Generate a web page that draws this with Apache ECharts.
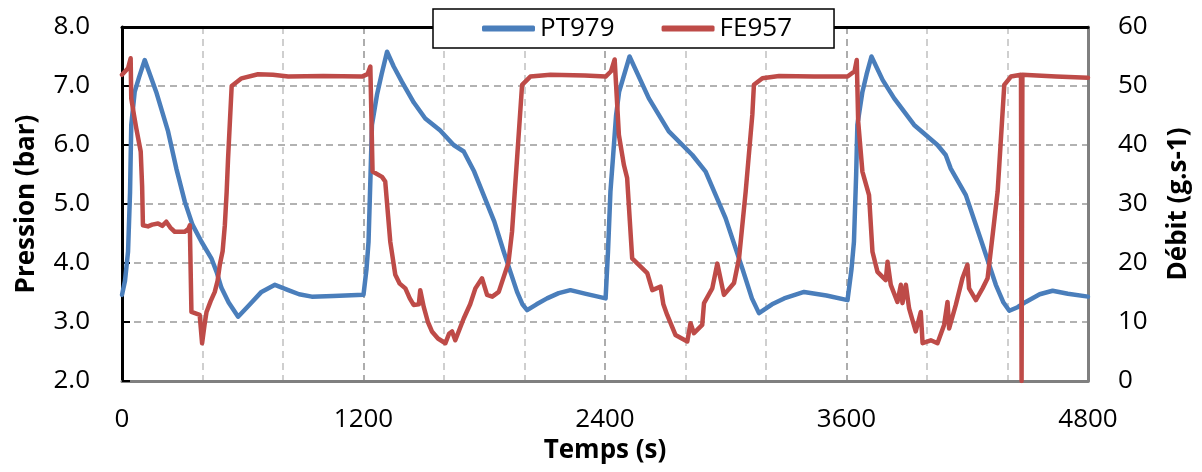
<!DOCTYPE html>
<html>
<head>
<meta charset="utf-8">
<script src="https://cdn.jsdelivr.net/npm/echarts@6/dist/echarts.min.js"></script>
<style>
  html, body { margin: 0; padding: 0; background: #ffffff; }
  #chart { width: 1202px; height: 472px; }
</style>
</head>
<body>
<div id="chart"></div>
<script>
// ---- Data ----
const seriesNames = ['PT979', 'FE957'];
const xTickLabels = ['0', '1200', '2400', '3600', '4800'];
const leftTickLabels = ['2.0', '3.0', '4.0', '5.0', '6.0', '7.0', '8.0'];
const rightTickLabels = ['0', '10', '20', '30', '40', '50', '60'];

// PT979 pressure (bar) vs time (s)
const ptTime = [0, 15, 30, 40, 46, 63, 85, 113, 170, 229, 270, 312, 350, 395, 444, 470, 494, 530, 577, 630, 693, 760, 826, 880, 943, 1050, 1200,
  1215, 1225, 1235, 1242, 1267, 1290, 1317, 1350, 1391, 1450, 1507, 1580, 1648, 1698, 1750, 1797, 1850, 1897, 1930, 1963, 1990, 2013, 2060, 2112, 2170, 2228, 2300, 2403,
  2415, 2427, 2440, 2455, 2470, 2522, 2618, 2717, 2834, 2900, 2999, 3082, 3130, 3165, 3230, 3290, 3389, 3500, 3605,
  3625, 3637, 3648, 3654, 3679, 3700, 3724, 3780, 3837, 3936, 4052, 4093, 4118, 4193, 4276, 4342, 4380, 4409, 4450, 4491, 4560, 4624, 4700, 4800];
const ptValue = [3.46, 3.70, 4.19, 5.20, 6.34, 6.90, 7.15, 7.44, 6.90, 6.23, 5.60, 5.04, 4.65, 4.36, 4.08, 3.85, 3.58, 3.33, 3.09, 3.28, 3.51, 3.63, 3.54, 3.47, 3.43, 3.44, 3.46,
  3.90, 4.36, 5.50, 6.34, 6.85, 7.20, 7.58, 7.33, 7.07, 6.72, 6.45, 6.25, 6.00, 5.89, 5.55, 5.15, 4.70, 4.19, 3.85, 3.51, 3.30, 3.20, 3.30, 3.40, 3.49, 3.54, 3.48, 3.40,
  4.20, 5.21, 5.80, 6.50, 6.90, 7.50, 6.79, 6.23, 5.83, 5.55, 4.76, 3.91, 3.40, 3.15, 3.30, 3.40, 3.51, 3.45, 3.37,
  3.90, 4.36, 5.50, 6.34, 6.90, 7.20, 7.50, 7.10, 6.79, 6.34, 6.00, 5.83, 5.60, 5.15, 4.31, 3.63, 3.33, 3.19, 3.25, 3.34, 3.47, 3.53, 3.48, 3.43];

// FE957 flow (g/s) vs time (s)
const feTime = [0, 30, 43, 46, 60, 71, 93, 100, 104, 129, 150, 179, 200, 220, 240, 262, 290, 312, 330, 337, 345, 386, 398, 410, 420, 440, 461, 475, 486, 500, 511, 520, 527, 545, 552, 594, 676, 750, 826, 1000, 1192,
  1220, 1234, 1245, 1292, 1308, 1333, 1358, 1380, 1408, 1430, 1449, 1475, 1482, 1499, 1520, 1540, 1570, 1607, 1625, 1640, 1656, 1698, 1730, 1756, 1789, 1814, 1840, 1872, 1905, 1920, 1938, 1963, 1988, 2029, 2129, 2300, 2403,
  2430, 2448, 2469, 2494, 2510, 2535, 2568, 2610, 2635, 2676, 2690, 2709, 2750, 2809, 2825, 2842, 2883, 2892, 2933, 2958, 2991, 3041, 3066, 3099, 3132, 3140, 3182, 3265, 3439, 3605,
  3640, 3651, 3658, 3679, 3712, 3729, 3754, 3795, 3804, 3820, 3853, 3870, 3878, 3895, 3911, 3944, 3969, 3978, 4019, 4052, 4085, 4102, 4110, 4143, 4176, 4201, 4209, 4243, 4276, 4301, 4326, 4351, 4384, 4417, 4467, 4470, 4474, 4641, 4800];
const feValue = [51.9, 53.0, 54.7, 47.9, 45.0, 42.8, 38.9, 33.0, 26.4, 26.2, 26.5, 26.7, 26.3, 27.0, 26.0, 25.3, 25.3, 25.3, 25.8, 26.4, 11.7, 11.2, 6.4, 9.5, 11.7, 13.5, 15.1, 17.0, 19.7, 22.0, 26.4, 32.0, 37.7, 50.0, 50.2, 51.3, 52.0, 51.9, 51.6, 51.7, 51.6,
  52.0, 53.3, 35.5, 34.6, 33.8, 23.6, 18.0, 16.5, 15.7, 14.0, 12.9, 13.0, 15.4, 12.6, 10.0, 8.4, 7.2, 6.4, 8.0, 8.4, 6.9, 10.6, 13.0, 15.7, 17.4, 14.6, 14.3, 15.1, 18.5, 20.0, 25.3, 37.7, 50.2, 51.6, 51.9, 51.8, 51.6,
  52.5, 54.5, 41.7, 36.6, 34.4, 20.8, 19.7, 18.3, 15.4, 16.0, 13.0, 11.2, 7.8, 6.7, 9.8, 8.1, 9.5, 13.2, 15.7, 19.9, 14.6, 16.6, 20.8, 32.1, 45.1, 50.2, 51.3, 51.7, 51.6, 51.6,
  52.5, 54.4, 44.0, 35.5, 31.5, 21.9, 18.5, 17.1, 20.2, 16.3, 13.4, 16.3, 13.2, 16.3, 12.3, 8.4, 11.7, 6.4, 6.9, 6.4, 9.5, 13.4, 8.9, 12.9, 17.4, 19.7, 15.7, 13.7, 15.7, 17.4, 24.7, 32.1, 50.2, 51.6, 51.9, 0, 51.9, 51.6, 51.4];

const seriesColors = ['#4A7EBB', '#BE4B48'];

// ---- Build chart ----
const ptData = ptTime.map((t, i) => [t, ptValue[i]]);
const feData = feTime.map((t, i) => [t, feValue[i]]);

const FONT = '"Open Sans", "Liberation Sans", sans-serif';
const chart = echarts.init(document.getElementById('chart'), null, { renderer: 'canvas' });

chart.setOption({
  animation: false,
  backgroundColor: '#ffffff',
  textStyle: { fontFamily: FONT },
  grid: { left: 122, right: 114, top: 27, bottom: 91, containLabel: false },
  legend: {
    data: seriesNames,
    left: 433, top: 9,
    padding: [5, 42, 5, 49],
    itemGap: 47,
    itemWidth: 53,
    itemHeight: 6,
    icon: 'roundRect',
    borderColor: '#000000',
    borderWidth: 1.5,
    backgroundColor: '#ffffff',
    textStyle: { fontFamily: FONT, fontSize: 26, color: '#000000', padding: [0, 0, 0, 0], lineHeight: 29 },
    z: 10
  },
  xAxis: [{
    type: 'value',
    min: 0, max: 4800, interval: 1200,
    name: 'Temps (s)',
    nameLocation: 'middle',
    nameGap: 56,
    nameTextStyle: { fontFamily: FONT, fontSize: 26, fontWeight: 'bold', color: '#000' },
    axisLine: { show: true, onZero: false, lineStyle: { color: '#808080', width: 3 } },
    axisTick: { show: false },
    axisLabel: {
      margin: 26, fontFamily: FONT, fontSize: 26, color: '#000',
      formatter: function (v) { const i = Math.round(v / 1200); return xTickLabels[i] !== undefined ? xTickLabels[i] : ''; }
    },
    splitLine: { show: true, lineStyle: { color: '#999999', width: 1.6, type: [7, 5] } },
    minorTick: { show: false, splitNumber: 3 },
    minorSplitLine: { show: true, lineStyle: { color: '#c4c4c4', width: 1.6, type: [7, 5] } }
  }, {
    type: 'value',
    position: 'top',
    min: 0, max: 4800,
    axisLine: { show: true, onZero: false, lineStyle: { color: '#000000', width: 3 } },
    axisTick: { show: false },
    axisLabel: { show: false },
    splitLine: { show: false }
  }],
  yAxis: [{
    type: 'value',
    position: 'left',
    min: 2, max: 8, interval: 1,
    name: 'Pression (bar)',
    nameLocation: 'middle',
    nameRotate: 90,
    nameGap: 82,
    nameTextStyle: { fontFamily: FONT, fontSize: 26, fontWeight: 'bold', color: '#000' },
    axisLine: { show: true, onZero: false, lineStyle: { color: '#000000', width: 3 } },
    axisTick: { show: true, inside: true, length: 8, lineStyle: { color: '#000', width: 2 } },
    axisLabel: {
      margin: 32, fontFamily: FONT, fontSize: 26, color: '#000',
      formatter: function (v) { const i = Math.round(v - 2); return leftTickLabels[i] !== undefined ? leftTickLabels[i] : ''; }
    },
    splitLine: { show: true, lineStyle: { color: '#999999', width: 1.6, type: [7, 5] } }
  }, {
    type: 'value',
    position: 'right',
    min: 0, max: 60, interval: 10,
    name: 'Débit (g.s-1)',
    nameLocation: 'middle',
    nameRotate: 90,
    nameGap: 78,
    nameTextStyle: { fontFamily: FONT, fontSize: 26, fontWeight: 'bold', color: '#000' },
    axisLine: { show: true, onZero: false, lineStyle: { color: '#808080', width: 3 } },
    axisTick: { show: false },
    axisLabel: {
      margin: 30, fontFamily: FONT, fontSize: 26, color: '#000',
      formatter: function (v) { const i = Math.round(v / 10); return rightTickLabels[i] !== undefined ? rightTickLabels[i] : ''; }
    },
    splitLine: { show: false }
  }],
  series: [{
    name: seriesNames[0],
    type: 'line',
    xAxisIndex: 0, yAxisIndex: 0,
    data: ptData,
    showSymbol: false,
    symbol: 'none',
    lineStyle: { color: seriesColors[0], width: 4.5, cap: 'round', join: 'round' },
    itemStyle: { color: seriesColors[0] },
    z: 3
  }, {
    name: seriesNames[1],
    type: 'line',
    xAxisIndex: 0, yAxisIndex: 1,
    data: feData,
    showSymbol: false,
    symbol: 'none',
    lineStyle: { color: seriesColors[1], width: 4.5, cap: 'round', join: 'round' },
    itemStyle: { color: seriesColors[1] },
    z: 4
  }]
});
</script>
</body>
</html>
